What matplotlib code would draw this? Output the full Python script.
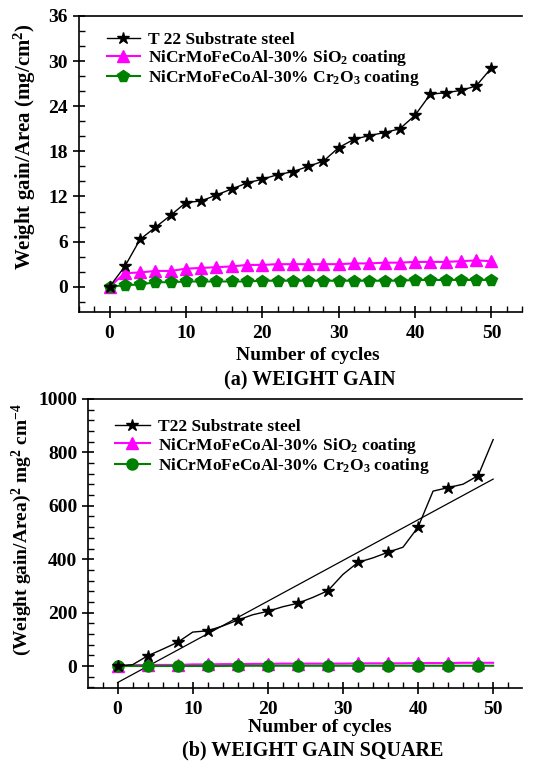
import numpy as np
import matplotlib
matplotlib.use("Agg")
import matplotlib.pyplot as plt
from matplotlib.ticker import MultipleLocator

plt.rcParams["font.family"] = ["Liberation Serif", "DejaVu Serif"]
plt.rcParams["font.weight"] = "bold"
plt.rcParams["mathtext.fontset"] = "custom"
plt.rcParams["mathtext.rm"] = "Liberation Serif:bold"
plt.rcParams["mathtext.it"] = "Liberation Serif:bold"
plt.rcParams["mathtext.bf"] = "Liberation Serif:bold"

# ── Data ─────────────────────────────────────────────────────────────────────
cycles = [0, 2, 4, 6, 8, 10, 12, 14, 16, 18, 20, 22, 24, 26, 28, 30,
          32, 34, 36, 38, 40, 42, 44, 46, 48, 50]

# (a) weight gain, mg/cm^2
gain_t22 = [0, 2.7, 6.3, 7.9, 9.5, 11.2, 11.4, 12.2, 13.0, 13.8, 14.3, 14.9, 15.3,
            16.0, 16.7, 18.5, 19.6, 20.1, 20.5, 21.0, 22.8, 25.6, 25.8, 26.1, 26.7, 29.1]
gain_sio2 = [0, 1.8, 1.9, 2.1, 2.1, 2.4, 2.5, 2.6, 2.7, 2.9, 2.9, 3.0, 3.0,
             3.0, 3.0, 3.0, 3.1, 3.1, 3.2, 3.2, 3.3, 3.3, 3.3, 3.4, 3.5, 3.4]
gain_cr2o3 = [0, 0.2, 0.3, 0.6, 0.6, 0.7, 0.7, 0.7, 0.7, 0.7, 0.8, 0.8, 0.8,
              0.8, 0.8, 0.8, 0.8, 0.8, 0.8, 0.8, 0.9, 0.9, 0.9, 0.9, 0.9, 0.9]

# (b) weight gain square, mg^2 cm^-4
sq_t22 = [0, 5, 38, 63, 89, 127, 132, 150, 172, 192, 205, 222, 235,
          257, 282, 343, 388, 405, 426, 445, 520, 655, 668, 681, 713, 848]
sq_sio2 = [0, 3, 4, 4, 4, 6, 6, 7, 7, 8, 8, 9, 9,
           9, 9, 9, 10, 10, 10, 10, 11, 11, 11, 12, 12, 12]
sq_cr2o3 = [0, 0, 0, 0, 0, 0, 0, 0, 1, 1, 1, 1, 1,
            1, 1, 1, 1, 1, 1, 1, 1, 1, 1, 1, 1, 1]

# linear fit line on T22 squared data (end points)
fit_cycles = [0, 50]
fit_t22 = [-62, 700]

labels_a = ["T 22 Substrate steel",
            "NiCrMoFeCoAl-30% SiO$_2$ coating",
            "NiCrMoFeCoAl-30% Cr$_2$O$_3$ coating"]
labels_b = ["T22 Substrate steel",
            "NiCrMoFeCoAl-30% SiO$_2$ coating",
            "NiCrMoFeCoAl-30% Cr$_2$O$_3$ coating"]

MAGENTA = "#ff00ff"
GREEN = "#008000"

fig = plt.figure(figsize=(5.36, 7.65), dpi=100)
W, H = 536.0, 765.0


def fx(px):
    return px / W


def fy(py):
    return 1 - py / H


def style_axes(ax, xmaj, xmin, ymaj, ymin):
    ax.spines["right"].set_visible(False)
    for s in ax.spines.values():
        s.set_linewidth(1.2)
    ax.xaxis.set_major_locator(MultipleLocator(xmaj))
    ax.xaxis.set_minor_locator(MultipleLocator(xmin))
    ax.yaxis.set_major_locator(MultipleLocator(ymaj))
    ax.yaxis.set_minor_locator(MultipleLocator(ymin))
    ax.tick_params(which="major", direction="inout", length=9, width=1.2,
                   labelsize=14, top=False, right=False)
    ax.tick_params(axis="x", which="major", pad=5)
    ax.tick_params(which="minor", direction="in", length=4, width=1.0,
                   top=False, right=False)


# ── (a) Weight gain ──────────────────────────────────────────────────────────
ax1 = fig.add_axes([fx(79), fy(312.3), (522 - 79) / W, (312.3 - 16) / H])
ax1.plot(cycles, gain_t22, color="black", lw=1.0, marker="*", ms=9, label=labels_a[0], zorder=4)
ax1.plot(cycles, gain_sio2, color=MAGENTA, lw=1.5, marker="^", ms=8, label=labels_a[1], zorder=3)
ax1.plot(cycles, gain_cr2o3, color=GREEN, lw=1.5, marker="p", ms=8.5, label=labels_a[2], zorder=3)
ax1.set_xlim(-4, 54)
ax1.set_ylim(-3.4, 36)
style_axes(ax1, 10, 2, 6, 2)
ax1.legend(loc="upper left", bbox_to_anchor=(fx(107), fy(32)), bbox_transform=fig.transFigure,
           frameon=False, fontsize=12.5, handlelength=1.9, handletextpad=0.45,
           labelspacing=0.0, borderaxespad=0, borderpad=0)
fig.text(fx(25), fy(147), "Weight gain/Area (mg/cm$^2$)", rotation=90,
         ha="center", va="center", fontsize=15)
fig.text(fx(308), fy(355), "Number of cycles", ha="center", va="center", fontsize=14)
fig.text(fx(310), fy(380), "(a) WEIGHT GAIN", ha="center", va="center", fontsize=14.5)

# ── (b) Weight gain square ───────────────────────────────────────────────────
ax2 = fig.add_axes([fx(88.3), fy(688.3), (521.7 - 88.3) / W, (688.3 - 399) / H])
ax2.plot(fit_cycles, fit_t22, color="black", lw=0.9, zorder=2)
ax2.plot(cycles, sq_t22, color="black", lw=1.0, marker="*", ms=9, markevery=2,
         label=labels_b[0], zorder=4)
ax2.plot(cycles, sq_sio2, color=MAGENTA, lw=1.5, marker="^", ms=8, markevery=2,
         label=labels_b[1], zorder=3)
ax2.plot(cycles, sq_cr2o3, color=GREEN, lw=1.5, marker="o", ms=8, markevery=2,
         label=labels_b[2], zorder=3)
ax2.set_xlim(-3.9, 53.8)
ax2.set_ylim(-83.5, 1000)
style_axes(ax2, 10, 2, 200, 40)
ax2.legend(loc="upper left", bbox_to_anchor=(fx(115), fy(419)), bbox_transform=fig.transFigure,
           frameon=False, fontsize=12.5, handlelength=2.0, handletextpad=0.45,
           labelspacing=0.02, borderaxespad=0, borderpad=0)
fig.text(fx(22), fy(530), "(Weight gain/Area)$^2$ mg$^2$ cm$^{-4}$", rotation=90,
         ha="center", va="center", fontsize=14)
fig.text(fx(320), fy(727), "Number of cycles", ha="center", va="center", fontsize=14)
fig.text(fx(313), fy(750), "(b) WEIGHT GAIN SQUARE", ha="center", va="center", fontsize=14.5)

fig.savefig("out.png", dpi=100)
